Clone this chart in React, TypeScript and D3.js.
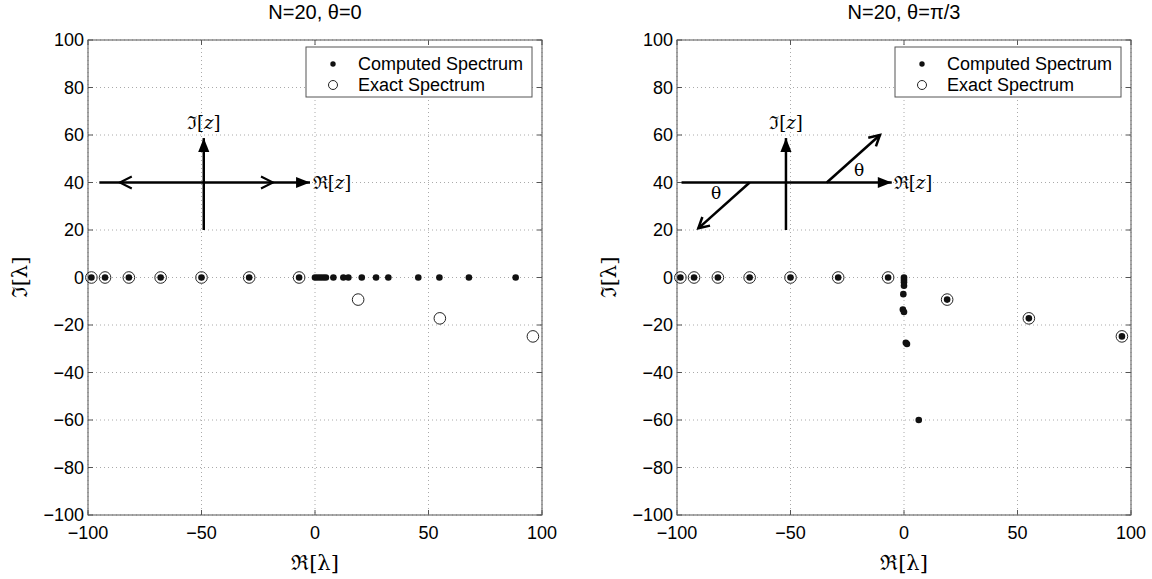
import React from 'react';
import * as d3 from 'd3';

// exact eigenvalues (same in both panels)
const exactRe = [-98.5, -92.5, -82, -68, -50, -29, -7, 19, 55, 96];
const exactIm = [0, 0, 0, 0, 0, 0, 0, -9.3, -17.2, -24.8];

// computed spectrum, theta = 0
const compRe0 = [-98.5, -92.5, -82, -68, -50, -29, -7, 0, 1.2, 2.4, 3.6, 4.8, 8.1, 12.5, 14.7, 20.6, 26.9, 32.3, 45.5, 54.8, 67.8, 88.4];
const compIm0 = [0, 0, 0, 0, 0, 0, 0, 0, 0, 0, 0, 0, 0, 0, 0, 0, 0, 0, 0, 0, 0, 0];

// computed spectrum, theta = pi/3
const compRe1 = [-98.5, -92.5, -82, -68, -50, -29, -7, 0, 0, 0, 0, -0.3, -0.5, 0, 0.8, 1.3, 6.5, 19, 55, 96];
const compIm1 = [0, 0, 0, 0, 0, 0, 0, 0, -1, -2, -3.5, -7, -13.5, -14.5, -27.5, -28, -60, -9.3, -17.2, -24.8];

const xTicks = [-100, -50, 0, 50, 100];
const yTicks = [-100, -80, -60, -40, -20, 0, 20, 40, 60, 80, 100];

// annotation arrows in data units: [x1, y1, x2, y2, head]
const arrows0: [number, number, number, number, string][] = [
  [-95, 40, -2.2, 40, 'fill'],
  [-49, 20, -49, 58.7, 'fill'],
];
const chevrons0: [number, number, number][] = [
  [-86, 40, -1],
  [-18.5, 40, 1],
];
const arrows1: [number, number, number, number, string][] = [
  [-98, 40, -5.4, 40, 'fill'],
  [-52, 20, -52, 58.7, 'fill'],
  [-34, 40, -10.6, 60, 'open'],
  [-68, 40, -90.6, 20.7, 'open'],
];
const thetaLabels1: [number, number][] = [
  [-19.8, 45.3],
  [-82.8, 35.6],
];

const W = 1152;
const H = 579;
const top = 40;
const bottom = 515;
const pw = 454;
const sans = '"Liberation Sans", Arial, Helvetica, sans-serif';
const serif = '"DejaVu Serif", "Liberation Serif", serif';

type PanelProps = {
  left: number;
  title: React.ReactNode;
  re: number[];
  im: number[];
  arrows: [number, number, number, number, string][];
  chevrons: [number, number, number][];
  thetas: [number, number][];
  reLabelX: number;
  imLabelX: number;
};

const Panel = ({ left, title, re, im, arrows, chevrons, thetas, reLabelX, imLabelX }: PanelProps) => {
  const x = d3.scaleLinear().domain([-100, 100]).range([left, left + pw]);
  const y = d3.scaleLinear().domain([-100, 100]).range([bottom, top]);

  const head = (x1: number, y1: number, x2: number, y2: number, kind: string, key: string) => {
    const px = x(x2), py = y(y2);
    const a = Math.atan2(py - y(y1), px - x(x1));
    const len = kind === 'fill' ? 15 : 12;
    const spread = kind === 'fill' ? 0.38 : 0.5;
    const p1 = [px - len * Math.cos(a - spread), py - len * Math.sin(a - spread)];
    const p2 = [px - len * Math.cos(a + spread), py - len * Math.sin(a + spread)];
    if (kind === 'fill') {
      return <polygon key={key} points={`${px},${py} ${p1[0]},${p1[1]} ${p2[0]},${p2[1]}`} fill='black' />;
    }
    return <polyline key={key} points={`${p1[0]},${p1[1]} ${px},${py} ${p2[0]},${p2[1]}`} fill='none' stroke='black' strokeWidth={2.5} />;
  };

  return (
    <g>
      <text x={x(0)} y={19} textAnchor='middle' fontFamily={sans} fontSize={20}>{title}</text>
      {xTicks.map(t => (
        <g key={'gx' + t}>
          <line x1={x(t)} x2={x(t)} y1={top} y2={bottom} stroke='#aaa' strokeDasharray='1,3' />
          <line x1={x(t)} x2={x(t)} y1={bottom} y2={bottom - 5} stroke='#555' />
          <line x1={x(t)} x2={x(t)} y1={top} y2={top + 5} stroke='#555' />
          <text x={x(t)} y={bottom + 18} dy='.35em' textAnchor='middle' fontFamily={sans} fontSize={18}>
            {t < 0 ? '\u2212' + Math.abs(t) : t}
          </text>
        </g>
      ))}
      {yTicks.map(t => (
        <g key={'gy' + t}>
          <line x1={left} x2={left + pw} y1={y(t)} y2={y(t)} stroke='#aaa' strokeDasharray='1,3' />
          <line x1={left} x2={left + 5} y1={y(t)} y2={y(t)} stroke='#555' />
          <line x1={left + pw} x2={left + pw - 5} y1={y(t)} y2={y(t)} stroke='#555' />
          <text x={left - 4} y={y(t)} dy='.35em' textAnchor='end' fontFamily={sans} fontSize={18}>
            {t < 0 ? '\u2212' + Math.abs(t) : t}
          </text>
        </g>
      ))}
      <rect x={left} y={top} width={pw} height={bottom - top} fill='none' stroke='#555' />
      <text x={x(0)} y={563} textAnchor='middle' dy='.35em' fontFamily={serif} fontSize={21}>ℜ[λ]</text>
      <text transform={`translate(${left - 68}, ${y(0)}) rotate(-90)`} textAnchor='middle' dy='.35em' fontFamily={serif} fontSize={21}>ℑ[λ]</text>

      {arrows.map((a, i) => (
        <g key={'ar' + i}>
          <line x1={x(a[0])} y1={y(a[1])} x2={x(a[2])} y2={y(a[3])} stroke='black' strokeWidth={2.5} />
          {head(a[0], a[1], a[2], a[3], a[4], 'h' + i)}
        </g>
      ))}
      {chevrons.map((c, i) => (
        <polyline key={'ch' + i}
          points={`${x(c[0]) - c[2] * 12},${y(c[1]) - 6} ${x(c[0])},${y(c[1])} ${x(c[0]) - c[2] * 12},${y(c[1]) + 6}`}
          fill='none' stroke='black' strokeWidth={2} />
      ))}
      {thetas.map((t, i) => (
        <text key={'th' + i} x={x(t[0])} y={y(t[1])} dy='.35em' textAnchor='middle' fontFamily={serif} fontSize={17}>θ</text>
      ))}
      <text x={x(reLabelX)} y={y(40)} dy='.35em' fontFamily={serif} fontSize={18}>ℜ[<tspan fontStyle='italic'>z</tspan>]</text>
      <text x={x(imLabelX)} y={y(65)} dy='.35em' textAnchor='middle' fontFamily={serif} fontSize={18}>ℑ[<tspan fontStyle='italic'>z</tspan>]</text>

      {exactRe.map((r, i) => (
        <circle key={'e' + i} cx={x(r)} cy={y(exactIm[i])} r={5.8} fill='none' stroke='#222' strokeWidth={1} />
      ))}
      {re.map((r, i) => (
        <circle key={'c' + i} cx={x(r)} cy={y(im[i])} r={3.3} fill='#111' />
      ))}

      <g>
        <rect x={left + pw - 236} y={47} width={226} height={50} fill='white' stroke='#555' />
        <circle cx={left + pw - 209} cy={64} r={2.7} fill='#111' />
        <text x={left + pw - 184} y={64} dy='.35em' fontFamily={sans} fontSize={18}>Computed Spectrum</text>
        <circle cx={left + pw - 209} cy={85} r={4.5} fill='none' stroke='#222' />
        <text x={left + pw - 184} y={85} dy='.35em' fontFamily={sans} fontSize={18}>Exact Spectrum</text>
      </g>
    </g>
  );
};

export default function App() {
  return (
    <svg width={W} height={H} style={{ position: 'absolute', left: 0, top: 0, background: 'white' }}>
      <Panel left={88} title='N=20, θ=0' re={compRe0} im={compIm0}
        arrows={arrows0} chevrons={chevrons0} thetas={[]} reLabelX={-1} imLabelX={-49} />
      <Panel left={677} title='N=20, θ=π/3' re={compRe1} im={compIm1}
        arrows={arrows1} chevrons={[]} thetas={thetaLabels1} reLabelX={-4.5} imLabelX={-52} />
    </svg>
  );
}
